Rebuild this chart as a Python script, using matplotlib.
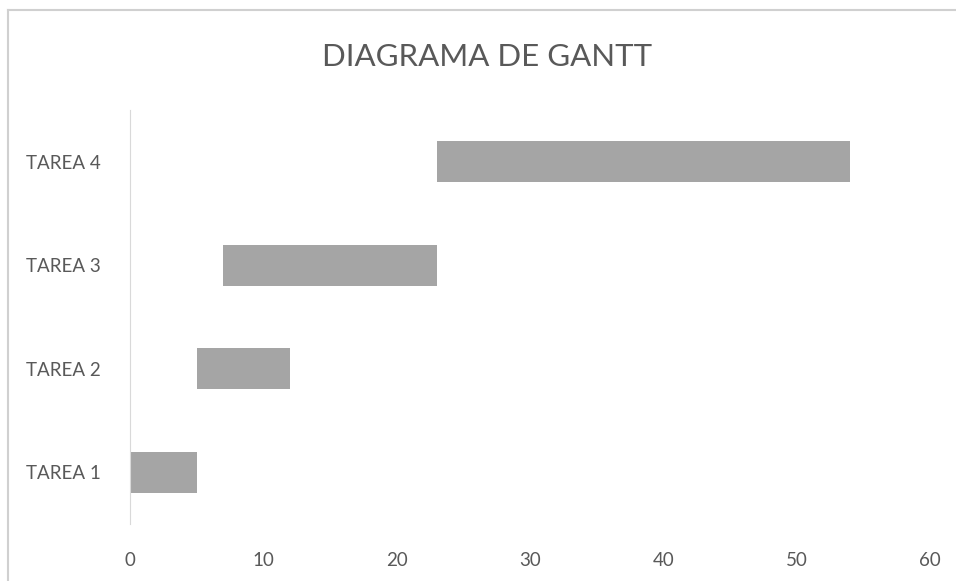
import matplotlib
matplotlib.use("Agg")
import matplotlib.pyplot as plt
from matplotlib.lines import Line2D

tasks = ["TAREA 1", "TAREA 2", "TAREA 3", "TAREA 4"]
starts = [0, 5, 7, 23]
durations = [5, 7, 16, 31]
xticks = [0, 10, 20, 30, 40, 50, 60]

plt.rcParams['font.family'] = ['Lato', 'DejaVu Sans']

fig = plt.figure(figsize=(9.56, 5.81), dpi=100)
fig.patch.set_facecolor('white')
# outer chart frame (only top and left edges visible in the cropped screenshot)
fig.add_artist(Line2D([8/956, 1], [1 - 10/581, 1 - 10/581], transform=fig.transFigure,
                      color='#d0d0d0', linewidth=1.5))
fig.add_artist(Line2D([8/956, 8/956], [0, 1 - 10/581], transform=fig.transFigure,
                      color='#d0d0d0', linewidth=1.5))

ax = fig.add_axes([130/956, 1 - 524/581, 800/956, 414/581])
ax.barh(range(len(tasks)), durations, left=starts, height=0.4, color='#a5a5a5')
ax.set_xlim(0, 60)
ax.set_ylim(-0.5, 3.5)
ax.set_xticks(xticks)
ax.set_yticks(range(len(tasks)))
ax.set_yticklabels(tasks)
for s in ['top', 'right', 'bottom']:
    ax.spines[s].set_visible(False)
ax.spines['left'].set_color('#d9d9d9')
ax.tick_params(axis='both', length=0, colors='#595959', labelsize=13.5)
ax.tick_params(axis='x', pad=20)
ax.tick_params(axis='y', pad=21)

fig.text(487/956, 1 - 57/581, "DIAGRAMA DE GANTT", ha='center', va='center',
         fontsize=22.5, color='#595959')

fig.savefig("out.png", dpi=100)
